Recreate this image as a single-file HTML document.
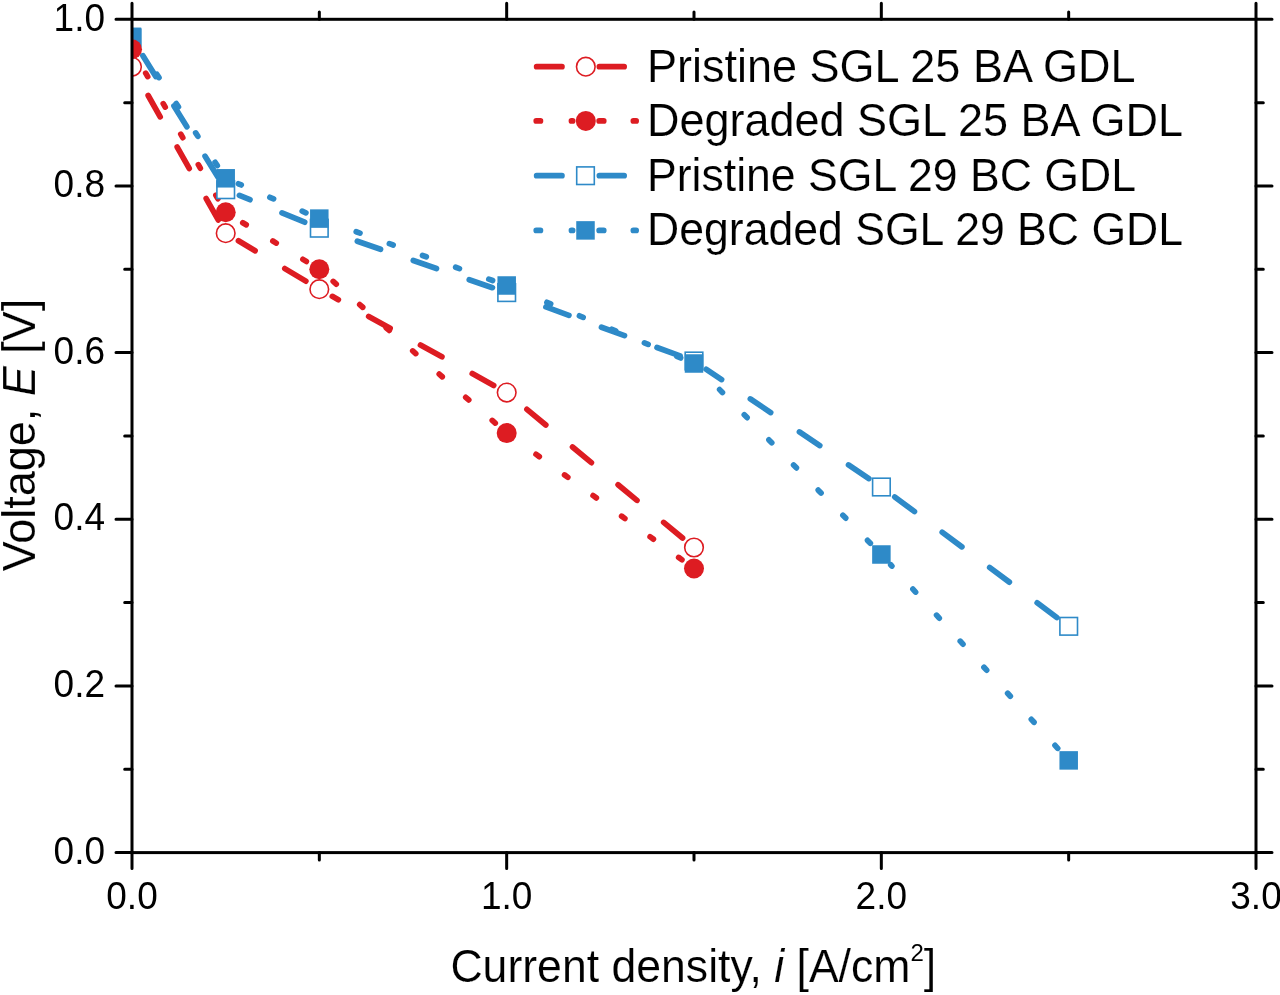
<!DOCTYPE html>
<html><head><meta charset="utf-8"><style>
html,body{margin:0;padding:0;background:#fff;width:1280px;height:995px;overflow:hidden}
text{stroke:#fff;stroke-width:0.15;stroke-linejoin:round}
text.tl{stroke:none}
svg{display:block;filter:blur(0.4px)}
</style></head><body>
<svg width="1280" height="995" viewBox="0 0 1280 995">
<rect width="1280" height="995" fill="#fff"/>
<defs><clipPath id="pa"><rect x="132.0" y="19.3" width="1124.0" height="833.3000000000001"/></clipPath></defs>
<g clip-path="url(#pa)" fill="none" stroke-linecap="round">
<g stroke="#2e8ac8" stroke-width="5.7" stroke-dasharray="24.5 34.65"><line x1="139.80" y1="50.63" x2="217.90" y2="177.07" stroke-dashoffset="-5.90"/><line x1="239.43" y1="195.35" x2="305.57" y2="222.55" stroke-dashoffset="13.10"/><line x1="333.34" y1="233.03" x2="492.66" y2="287.77" stroke-dashoffset="-25.40"/><line x1="520.65" y1="297.69" x2="680.05" y2="355.91" stroke-dashoffset="-26.90"/><line x1="706.32" y1="369.29" x2="869.08" y2="478.71" stroke-dashoffset="6.10"/><line x1="893.32" y1="495.86" x2="1056.78" y2="617.44" stroke-dashoffset="-1.80"/></g>
<g stroke="#2e8ac8" stroke-width="5.7" stroke-dasharray="4.0 31.20"><line x1="139.65" y1="48.35" x2="218.05" y2="166.75" stroke-dashoffset="4.15"/><line x1="238.42" y1="183.78" x2="306.58" y2="213.12" stroke-dashoffset="0.95"/><line x1="332.34" y1="223.26" x2="493.66" y2="280.84" stroke-dashoffset="9.85"/><line x1="519.49" y1="290.82" x2="681.21" y2="358.18" stroke-dashoffset="5.45"/><line x1="703.70" y1="373.39" x2="871.70" y2="544.61" stroke-dashoffset="12.45"/><line x1="890.72" y1="564.75" x2="1059.38" y2="750.15" stroke-dashoffset="2.25"/></g>
<g stroke="#dd1c22" stroke-width="5.7" stroke-dasharray="24.5 34.65"><line x1="139.29" y1="79.74" x2="218.41" y2="220.26" stroke-dashoffset="-18.10"/><line x1="238.44" y1="240.82" x2="306.56" y2="281.58" stroke-dashoffset="5.10"/><line x1="332.30" y1="296.37" x2="493.70" y2="385.43" stroke-dashoffset="17.60"/><line x1="518.14" y1="402.06" x2="682.56" y2="538.04" stroke-dashoffset="-11.40"/></g>
<g stroke="#dd1c22" stroke-width="5.7" stroke-dasharray="4.0 31.20"><line x1="139.40" y1="62.17" x2="218.30" y2="199.43" stroke-dashoffset="-12.65"/><line x1="238.38" y1="220.02" x2="306.62" y2="261.58" stroke-dashoffset="-5.15"/><line x1="330.48" y1="279.07" x2="495.52" y2="423.33" stroke-dashoffset="-3.65"/><line x1="518.73" y1="441.80" x2="681.97" y2="559.80" stroke-dashoffset="13.85"/></g>
<rect x="123.20" y="29.20" width="17.599999999999998" height="17.599999999999998" fill="#fff" stroke="#2e8ac8" stroke-width="1.6"/><rect x="216.90" y="180.90" width="17.599999999999998" height="17.599999999999998" fill="#fff" stroke="#2e8ac8" stroke-width="1.6"/><rect x="310.50" y="219.40" width="17.599999999999998" height="17.599999999999998" fill="#fff" stroke="#2e8ac8" stroke-width="1.6"/><rect x="497.90" y="283.80" width="17.599999999999998" height="17.599999999999998" fill="#fff" stroke="#2e8ac8" stroke-width="1.6"/><rect x="685.20" y="352.20" width="17.599999999999998" height="17.599999999999998" fill="#fff" stroke="#2e8ac8" stroke-width="1.6"/><rect x="872.60" y="478.20" width="17.599999999999998" height="17.599999999999998" fill="#fff" stroke="#2e8ac8" stroke-width="1.6"/><rect x="1059.90" y="617.50" width="17.599999999999998" height="17.599999999999998" fill="#fff" stroke="#2e8ac8" stroke-width="1.6"/>
<rect x="122.75" y="27.55" width="18.5" height="18.5" fill="#2e8ac8"/><rect x="216.45" y="169.05" width="18.5" height="18.5" fill="#2e8ac8"/><rect x="310.05" y="209.35" width="18.5" height="18.5" fill="#2e8ac8"/><rect x="497.45" y="276.25" width="18.5" height="18.5" fill="#2e8ac8"/><rect x="684.75" y="354.25" width="18.5" height="18.5" fill="#2e8ac8"/><rect x="872.15" y="545.25" width="18.5" height="18.5" fill="#2e8ac8"/><rect x="1059.45" y="751.15" width="18.5" height="18.5" fill="#2e8ac8"/>
<circle cx="132.00" cy="66.80" r="9.3" fill="#fff" stroke="#dd1c22" stroke-width="1.6"/><circle cx="225.70" cy="233.20" r="9.3" fill="#fff" stroke="#dd1c22" stroke-width="1.6"/><circle cx="319.30" cy="289.20" r="9.3" fill="#fff" stroke="#dd1c22" stroke-width="1.6"/><circle cx="506.70" cy="392.60" r="9.3" fill="#fff" stroke="#dd1c22" stroke-width="1.6"/><circle cx="694.00" cy="547.50" r="9.3" fill="#fff" stroke="#dd1c22" stroke-width="1.6"/>
<circle cx="132.00" cy="49.30" r="10" fill="#dd1c22"/><circle cx="225.70" cy="212.30" r="10" fill="#dd1c22"/><circle cx="319.30" cy="269.30" r="10" fill="#dd1c22"/><circle cx="506.70" cy="433.10" r="10" fill="#dd1c22"/><circle cx="694.00" cy="568.50" r="10" fill="#dd1c22"/>
</g>
<g stroke="#000" stroke-width="3" fill="none">
<rect x="132.0" y="19.3" width="1124.0" height="833.3000000000001"/>
<path stroke-linecap="round" d="M132.00,852.6v16M132.00,19.3v-16M319.33,852.6v7.3M319.33,19.3v-7.3M506.67,852.6v16M506.67,19.3v-16M694.00,852.6v7.3M694.00,19.3v-7.3M881.33,852.6v16M881.33,19.3v-16M1068.67,852.6v7.3M1068.67,19.3v-7.3M1256.00,852.6v16M1256.00,19.3v-16M132.0,852.60h-16M1256.0,852.60h16M132.0,769.27h-7.3M1256.0,769.27h7.3M132.0,685.94h-16M1256.0,685.94h16M132.0,602.61h-7.3M1256.0,602.61h7.3M132.0,519.28h-16M1256.0,519.28h16M132.0,435.95h-7.3M1256.0,435.95h7.3M132.0,352.62h-16M1256.0,352.62h16M132.0,269.29h-7.3M1256.0,269.29h7.3M132.0,185.96h-16M1256.0,185.96h16M132.0,102.63h-7.3M1256.0,102.63h7.3M132.0,19.30h-16M1256.0,19.30h16"/>
</g>
<g font-family='"Liberation Sans", sans-serif' font-size="37" fill="#000" style="stroke:none">
<text transform="translate(132.00,909) scale(1,1.04)" class="tl" text-anchor="middle">0.0</text>
<text transform="translate(506.67,909) scale(1,1.04)" class="tl" text-anchor="middle">1.0</text>
<text transform="translate(881.33,909) scale(1,1.04)" class="tl" text-anchor="middle">2.0</text>
<text transform="translate(1256.00,909) scale(1,1.04)" class="tl" text-anchor="middle">3.0</text>
<text transform="translate(105,863.80) scale(1,1.04)" class="tl" text-anchor="end">0.0</text>
<text transform="translate(105,697.14) scale(1,1.04)" class="tl" text-anchor="end">0.2</text>
<text transform="translate(105,530.48) scale(1,1.04)" class="tl" text-anchor="end">0.4</text>
<text transform="translate(105,363.82) scale(1,1.04)" class="tl" text-anchor="end">0.6</text>
<text transform="translate(105,197.16) scale(1,1.04)" class="tl" text-anchor="end">0.8</text>
<text transform="translate(105,30.50) scale(1,1.04)" class="tl" text-anchor="end">1.0</text>
</g>
<text transform="translate(693.3,982.1) scale(1,1.02)" text-anchor="middle" font-family='"Liberation Sans", sans-serif' font-size="44.6">Current density, <tspan font-style="italic">i</tspan> [A/cm<tspan font-size="24" dy="-20.5" style="stroke:none">2</tspan><tspan dy="20.5">]</tspan></text>
<text transform="translate(34.5,435) rotate(-90) scale(1,1.02)" text-anchor="middle" font-family='"Liberation Sans", sans-serif' font-size="45">Voltage, <tspan font-style="italic">E</tspan> [V]</text>
<path d="M536.65,66.7H561.95M599.35,66.7H624.15" stroke="#dd1c22" stroke-width="5.7" stroke-linecap="round" fill="none"/>
<circle cx="585.80" cy="66.70" r="9.3" fill="#fff" stroke="#dd1c22" stroke-width="1.6"/>
<text transform="translate(647,81.5) scale(1,1.02)" font-family='"Liberation Sans", sans-serif' font-size="45" fill="#000">Pristine SGL 25 BA GDL</text>
<path d="M536.25,120.9H540.45M571.45,120.9H572.65M599.15,120.9H603.75M633.35,120.9H636.15" stroke="#dd1c22" stroke-width="5.7" stroke-linecap="round" fill="none"/>
<circle cx="585.80" cy="120.90" r="10" fill="#dd1c22"/>
<text transform="translate(647,135.8) scale(1,1.02)" font-family='"Liberation Sans", sans-serif' font-size="45" fill="#000">Degraded SGL 25 BA GDL</text>
<path d="M536.65,175.7H561.95M599.35,175.7H624.15" stroke="#2e8ac8" stroke-width="5.7" stroke-linecap="round" fill="none"/>
<rect x="576.70" y="166.90" width="17.599999999999998" height="17.599999999999998" fill="#fff" stroke="#2e8ac8" stroke-width="1.6"/>
<text transform="translate(647,190.5) scale(1,1.02)" font-family='"Liberation Sans", sans-serif' font-size="44.6" fill="#000">Pristine SGL 29 BC GDL</text>
<path d="M536.25,230.4H540.45M571.45,230.4H572.65M599.15,230.4H603.75M633.35,230.4H636.15" stroke="#2e8ac8" stroke-width="5.7" stroke-linecap="round" fill="none"/>
<rect x="576.25" y="221.15" width="18.5" height="18.5" fill="#2e8ac8"/>
<text transform="translate(647,245.1) scale(1,1.02)" font-family='"Liberation Sans", sans-serif' font-size="44.6" fill="#000">Degraded SGL 29 BC GDL</text>
</svg>
</body></html>
